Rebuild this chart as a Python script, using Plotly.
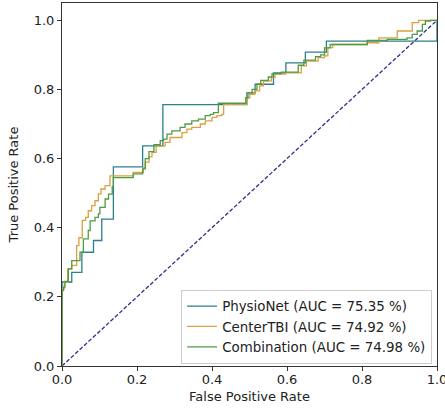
import plotly.graph_objects as go

# ROC step points (x = FPR where the rise happens, y = TPR at top of rise)
physionet_fpr = [0, 0, 0.026, 0.053, 0.084, 0.106, 0.137, 0.215, 0.269, 0.493, 0.515,
                 0.564, 0.597, 0.649, 0.705, 1.0]
physionet_tpr = [0, 0.243, 0.271, 0.329, 0.363, 0.425, 0.576, 0.637, 0.756, 0.79, 0.815,
                 0.848, 0.877, 0.908, 0.94, 1.0]

centertbi_fpr = [0, 0, 0.006, 0.015, 0.026, 0.039, 0.045, 0.054, 0.063, 0.070, 0.079,
                 0.088, 0.097, 0.104, 0.115, 0.128, 0.19, 0.217, 0.222, 0.232, 0.24,
                 0.251, 0.275, 0.288, 0.320, 0.333, 0.346, 0.369, 0.382, 0.400, 0.413,
                 0.426, 0.431, 0.493, 0.501, 0.514, 0.527, 0.537, 0.558, 0.568, 0.595,
                 0.638, 0.652, 0.683, 0.70, 0.709, 0.722, 0.814, 0.845, 0.894, 0.934,
                 0.951, 1.0]
centertbi_tpr = [0, 0.223, 0.242, 0.281, 0.291, 0.348, 0.371, 0.421, 0.430, 0.449, 0.464,
                 0.478, 0.498, 0.512, 0.522, 0.550, 0.56, 0.574, 0.59, 0.605, 0.618,
                 0.637, 0.647, 0.661, 0.675, 0.685, 0.690, 0.700, 0.709, 0.719, 0.724,
                 0.728, 0.757, 0.776, 0.786, 0.796, 0.810, 0.824, 0.834, 0.844, 0.848,
                 0.868, 0.882, 0.892, 0.897, 0.921, 0.93, 0.935, 0.949, 0.969, 0.993,
                 1.0, 1.0]

combination_fpr = [0, 0, 0.004, 0.008, 0.017, 0.026, 0.048, 0.057, 0.070, 0.075, 0.088,
                   0.097, 0.101, 0.115, 0.124, 0.134, 0.137, 0.19, 0.215, 0.222, 0.232,
                   0.245, 0.262, 0.271, 0.28, 0.293, 0.315, 0.328, 0.346, 0.364, 0.382,
                   0.395, 0.404, 0.417, 0.49, 0.496, 0.507, 0.52, 0.53, 0.55, 0.56,
                   0.585, 0.63, 0.645, 0.676, 0.69, 0.70, 0.715, 0.814, 0.867, 0.92,
                   0.934, 0.947, 0.961, 0.969, 0.983, 1.0]
combination_tpr = [0, 0.218, 0.228, 0.245, 0.281, 0.305, 0.329, 0.368, 0.392, 0.420, 0.430,
                   0.440, 0.459, 0.483, 0.497, 0.519, 0.545, 0.556, 0.57, 0.60, 0.62,
                   0.64, 0.652, 0.656, 0.671, 0.680, 0.690, 0.700, 0.709, 0.714, 0.724,
                   0.728, 0.733, 0.760, 0.776, 0.79, 0.80, 0.815, 0.826, 0.836, 0.846,
                   0.85, 0.87, 0.885, 0.895, 0.90, 0.92, 0.93, 0.942, 0.945, 0.949,
                   0.959, 0.969, 0.988, 0.998, 1.0, 1.0]

diag_x = [0, 1]
diag_y = [0, 1]

names = ["PhysioNet (AUC = 75.35 %)", "CenterTBI (AUC = 74.92 %)", "Combination (AUC = 74.98 %)"]
colors = ["#2c7f8c", "#dca03e", "#4d9c45"]
tick_vals = [0, 0.2, 0.4, 0.6, 0.8, 1.0]
tick_text = ["0.0", "0.2", "0.4", "0.6", "0.8", "1.0"]

FONT = "DejaVu Sans"

fig = go.Figure()
fig.add_trace(go.Scatter(x=diag_x, y=diag_y, mode="lines", showlegend=False,
                         line=dict(color="#2e2e8c", width=1.3, dash="4px,2px")))
series = [(physionet_fpr, physionet_tpr), (centertbi_fpr, centertbi_tpr),
          (combination_fpr, combination_tpr)]
for (fx, ty), nm, c in zip(series, names, colors):
    fig.add_trace(go.Scatter(x=fx, y=ty, mode="lines", name=nm, line_shape="hv",
                             line=dict(color=c, width=1.3)))

axis_common = dict(showgrid=False, zeroline=False, showline=True, linecolor="#333333",
                   linewidth=1, mirror=True, ticks="outside", ticklen=4, tickwidth=1,
                   tickcolor="#333333", automargin=False, ticklabeloverflow="allow",
                   tickfont=dict(family=FONT, size=13, color="#222222"))

fig.update_xaxes(range=[0, 1], tickvals=tick_vals, ticktext=tick_text,
                 ticklabelstandoff=-3,
                 title=dict(text="False Positive Rate", font=dict(family=FONT, size=13, color="#222222"),
                            standoff=6),
                 **axis_common)
fig.update_yaxes(range=[0, 1.05], tickvals=tick_vals, ticktext=tick_text,
                 title=dict(text="True Positive Rate", font=dict(family=FONT, size=13, color="#222222"),
                            standoff=12),
                 **axis_common)

fig.update_layout(
    width=445, height=410,
    margin=dict(l=62, r=8, t=3, b=44),
    plot_bgcolor="white", paper_bgcolor="white",
    font=dict(family=FONT, size=13, color="#222222"),
    legend=dict(x=0.987, y=0.006, xanchor="right", yanchor="bottom",
                bgcolor="rgba(255,255,255,0.85)", bordercolor="#cccccc", borderwidth=1,
                font=dict(family=FONT, size=13.4, color="#222222"),
                tracegroupgap=0, itemwidth=30),
)

fig.write_html("out.html", config={"displayModeBar": False},
               post_script="document.body.style.margin='0';document.body.style.padding='0';"
                           "document.body.style.overflow='hidden';")
